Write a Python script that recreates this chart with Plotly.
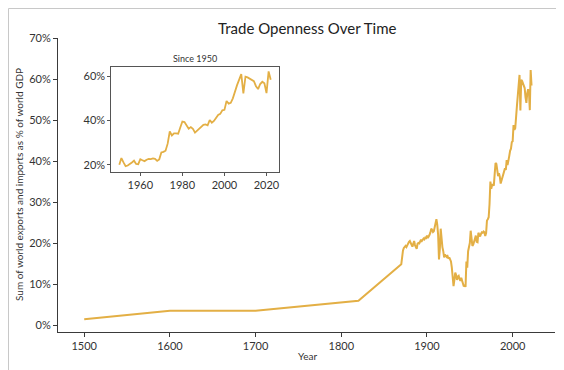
import plotly.graph_objects as go

# ---------------- data ----------------
early_years = [1500, 1600, 1700, 1820]
early_values = [1.4, 3.5, 3.5, 5.9]

hist_years = list(range(1870, 1950))
hist_values = [
    14.8, 17.5, 18.2, 18.8, 19.0, 19.3, 19.0, 19.6, 19.8, 20.3,
    20.5, 20.0, 19.4, 19.1, 19.8, 20.5, 19.5, 19.2, 18.6, 19.8,
    20.0, 19.9, 20.4, 20.8, 20.5, 20.7, 21.1, 20.9, 21.3, 21.2,
    21.8, 21.2, 21.5, 22.0, 22.6, 23.5, 23.2, 22.7, 22.9, 24.0,
    25.0, 25.8, 24.5, 22.0, 16.0, 18.5, 23.5, 20.5, 19.0, 18.0,
    16.5, 17.2, 16.8, 16.6, 16.8, 16.2, 16.5, 16.0, 15.5, 14.0,
    11.8, 9.5, 11.0, 12.8, 12.2, 11.0, 11.8, 12.0, 11.2, 10.8,
    11.5, 10.6, 10.2, 9.4, 9.8, 9.3, 15.5, 14.0, 18.0, 19.2,
]

modern_years = list(range(1950, 2023))
modern_values = [
    20.0, 23.0, 21.0, 19.3, 19.6, 20.2, 21.0, 21.8, 20.3, 20.2,
    22.5, 22.0, 21.6, 22.2, 22.6, 22.5, 22.8, 22.6, 21.7, 22.4,
    25.5, 25.8, 26.3, 29.5, 35.0, 33.2, 34.2, 34.2, 34.0, 36.8,
    39.5, 39.3, 37.6, 36.3, 37.0, 36.2, 34.5, 35.3, 36.4, 37.3,
    38.0, 38.2, 37.8, 40.2, 39.0, 39.8, 41.2, 42.5, 43.0, 44.6,
    44.8, 48.8, 47.6, 48.0, 50.0, 53.5, 56.0, 58.5, 61.0, 52.3,
    59.8, 59.5, 59.0, 58.5, 57.8, 55.5, 54.2, 56.5, 57.5, 56.8,
    52.4, 62.2, 58.4,
]

main_ticks = [0, 10, 20, 30, 40, 50, 60, 70]
main_tick_labels = ["0%", "10%", "20%", "30%", "40%", "50%", "60%", "70%"]
main_xticks = [1500, 1600, 1700, 1800, 1900, 2000]
inset_ticks = [20, 40, 60]
inset_tick_labels = ["20%", "40%", "60%"]
inset_xticks = [1960, 1980, 2000, 2020]

all_years = early_years + hist_years + modern_years
all_values = early_values + hist_values + modern_values

# ---------------- styling ----------------
LINE = "#E3AF45"
AX = "#3a3a3a"
FONT = "Lato"
W, H = 564, 370
ML, MR, MT, MB = 50, 17, 30, 46
PW = W - ML - MR
PH = H - MT - MB


def px_x(x):
    return (x - ML) / PW


def px_y(y):
    return (H - MB - y) / PH


fig = go.Figure()
fig.add_trace(go.Scatter(x=all_years, y=all_values, mode="lines",
                         line=dict(color=LINE, width=2), hoverinfo="skip",
                         showlegend=False))
fig.add_trace(go.Scatter(x=modern_years, y=modern_values, mode="lines",
                         line=dict(color=LINE, width=1.8), hoverinfo="skip",
                         showlegend=False, xaxis="x2", yaxis="y2"))

fig.update_layout(
    width=W, height=H,
    margin=dict(l=ML, r=MR, t=MT, b=MB),
    paper_bgcolor="white", plot_bgcolor="white",
    font=dict(family=FONT, color="#333333", size=11),
    xaxis=dict(range=[1469.4, 2049.4], tickvals=main_xticks,
               showline=True, linecolor=AX, linewidth=1, ticks="outside",
               ticklen=4, tickcolor=AX, showgrid=False, zeroline=False,
               tickfont=dict(size=11, color="#333333")),
    yaxis=dict(range=[-1.7, 70], tickvals=main_ticks,
               ticktext=main_tick_labels,
               showline=True, linecolor=AX, linewidth=1, ticks="outside",
               ticklen=4, tickcolor=AX, showgrid=False, zeroline=False,
               tickfont=dict(size=11, color="#333333")),
    xaxis2=dict(domain=[px_x(103.3), px_x(270.7)], anchor="y2",
                range=[1946.2, 2025.8], tickvals=inset_xticks,
                showline=True, mirror=True, linecolor="#555555", linewidth=1,
                ticks="outside", ticklen=3, tickcolor="#555555",
                showgrid=False, zeroline=False,
                tickfont=dict(size=11, color="#333333")),
    yaxis2=dict(domain=[px_y(163.5), px_y(59)], anchor="x2",
                range=[16.9, 64.2], tickvals=inset_ticks,
                ticktext=inset_tick_labels,
                showline=True, mirror=True, linecolor="#555555", linewidth=1,
                ticks="outside", ticklen=3, tickcolor="#555555",
                showgrid=False, zeroline=False,
                tickfont=dict(size=11, color="#333333")),
    annotations=[
        dict(text="Trade Openness Over Time", x=px_x(299), y=px_y(20),
             xref="paper", yref="paper", showarrow=False,
             xanchor="center", yanchor="middle",
             font=dict(size=15, color="#222222", family=FONT)),
        dict(text="Since 1950", x=px_x(187), y=px_y(51),
             xref="paper", yref="paper", showarrow=False,
             xanchor="center", yanchor="middle",
             font=dict(size=9, color="#333333", family=FONT)),
        dict(text="Year", x=px_x(299), y=px_y(348),
             xref="paper", yref="paper", showarrow=False,
             xanchor="center", yanchor="middle",
             font=dict(size=10, color="#333333", family=FONT)),
        dict(text="Sum of world exports and imports as % of world GDP",
             x=px_x(11), y=px_y(177), textangle=-90,
             xref="paper", yref="paper", showarrow=False,
             xanchor="center", yanchor="middle",
             font=dict(size=10, color="#333333", family=FONT)),
    ],
    shapes=[
        dict(type="rect", xref="paper", yref="paper",
             x0=px_x(0.5), x1=px_x(W - 0.5), y0=px_y(H - 0.5), y1=px_y(0.5),
             line=dict(color="#c8c8c8", width=1), fillcolor="rgba(0,0,0,0)",
             layer="below"),
    ],
)

fig.write_html("out.html")
